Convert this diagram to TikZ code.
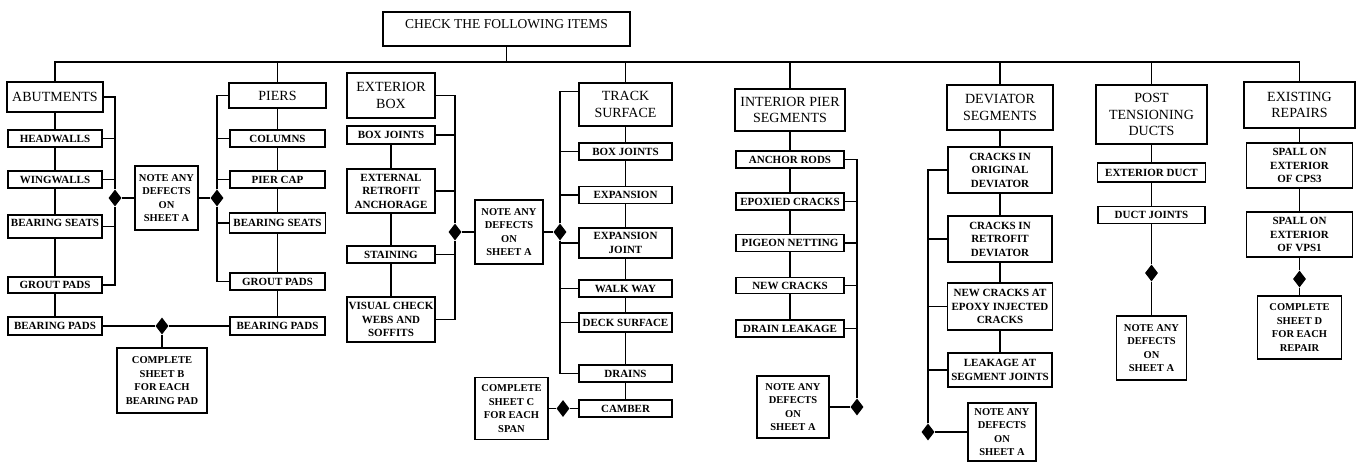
\documentclass[tikz,border=0pt]{standalone}
\usepackage{fontspec}
\setmainfont{Liberation Serif}
\usetikzlibrary{shapes.geometric}
\begin{document}
\begin{tikzpicture}[x=1pt,y=-1pt,sz/.style 2 args={minimum width=#1pt,minimum height=#2pt},hbox/.style={draw,line width=1.8pt,align=center,inner sep=1pt,font=\fontsize{14}{16.5}\selectfont},ibox/.style={draw,line width=1.4pt,align=center,inner sep=1pt,font=\bfseries\fontsize{11}{13.5}\selectfont},nbox/.style={draw,line width=1.8pt,align=center,inner sep=1pt,font=\bfseries\fontsize{10.5}{13.5}\selectfont},dmd/.style={diamond,fill=black,inner sep=0pt,minimum width=13pt,minimum height=17pt},conn/.style={line width=1.1pt}]
\useasboundingbox (0,0) rectangle (1363,464);
\node[hbox,sz={247}{34},font=\fontsize{13.5}{16}\selectfont,text height=12.5pt,text depth=13.5pt] (top) at (506.5,29) {CHECK THE FOLLOWING ITEMS};
\coordinate (bus) at (506.5,62);
\node[hbox,sz={96}{30}] (abut) at (55,97) {ABUTMENTS};
\node[ibox,sz={94}{17}] (hw) at (55,138.5) {HEADWALLS};
\node[ibox,sz={94}{17}] (ww) at (55,179.5) {WINGWALLS};
\node[ibox,sz={94}{23},text height=8pt,text depth=9pt] (bs1) at (55,226.5) {BEARING SEATS};
\node[ibox,sz={94}{16}] (gp1) at (55,285) {GROUT PADS};
\node[ibox,sz={94}{18}] (bp1) at (55,326) {BEARING PADS};
\node[dmd] (d1) at (115,198) {};
\node[nbox,sz={63}{64}] (note1) at (166.5,198) {NOTE ANY\\DEFECTS\\ON\\SHEET A};
\node[dmd] (d2) at (217,198) {};
\node[hbox,sz={97}{25}] (piers) at (277.5,95.5) {PIERS};
\node[ibox,sz={95}{17}] (col) at (277.5,138.5) {COLUMNS};
\node[ibox,sz={95}{17}] (pcap) at (277.5,179.5) {PIER CAP};
\node[ibox,sz={96}{20}] (bs2) at (277.5,223) {BEARING SEATS};
\node[ibox,sz={95}{17}] (gp2) at (277.5,281.5) {GROUT PADS};
\node[ibox,sz={95}{18}] (bp2) at (277.5,326) {BEARING PADS};
\node[dmd] (d3) at (162,326) {};
\node[nbox,sz={90}{65}] (shb) at (162,380.5) {COMPLETE\\SHEET B\\FOR EACH\\BEARING PAD};
\node[hbox,sz={88}{45}] (exb) at (391,95.5) {EXTERIOR\\BOX};
\node[ibox,sz={88}{18}] (ebj) at (391,135) {BOX JOINTS};
\node[ibox,sz={88}{44}] (era) at (391,191) {EXTERNAL\\RETROFIT\\ANCHORAGE};
\node[ibox,sz={88}{17}] (stn) at (391,254.5) {STAINING};
\node[ibox,sz={88}{45}] (vis) at (391,319.5) {VISUAL CHECK\\WEBS AND\\SOFFITS};
\node[dmd] (d4) at (455,232) {};
\node[nbox,sz={68}{64}] (note2) at (509,232) {NOTE ANY\\DEFECTS\\ON\\SHEET A};
\node[dmd] (d5) at (560,232) {};
\node[hbox,sz={93}{43}] (trs) at (625.5,104.5) {TRACK\\SURFACE};
\node[ibox,sz={93}{17}] (tbj) at (625.5,151.5) {BOX JOINTS};
\node[ibox,sz={93}{17}] (exp) at (625.5,195) {EXPANSION};
\node[ibox,sz={93}{30}] (expj) at (625.5,243) {EXPANSION\\JOINT};
\node[ibox,sz={93}{17}] (wway) at (625.5,288.5) {WALK WAY};
\node[ibox,sz={93}{19}] (deck) at (625.5,322.5) {DECK SURFACE};
\node[ibox,sz={93}{17}] (drn) at (625.5,373.5) {DRAINS};
\node[ibox,sz={93}{17}] (cam) at (625.5,408.5) {CAMBER};
\node[dmd] (d6) at (563,408.5) {};
\node[nbox,sz={73}{62}] (shc) at (511.5,408.5) {COMPLETE\\SHEET C\\FOR EACH\\SPAN};
\node[hbox,sz={110}{42}] (ips) at (790,110) {INTERIOR PIER\\SEGMENTS};
\node[ibox,sz={108}{17}] (anc) at (790,159.5) {ANCHOR RODS};
\node[ibox,sz={108}{17}] (epx) at (790,201.5) {EPOXIED CRACKS};
\node[ibox,sz={108}{17}] (pig) at (790,243) {PIGEON NETTING};
\node[ibox,sz={108}{16}] (nwc) at (790,285.5) {NEW CRACKS};
\node[ibox,sz={108}{17}] (drl) at (790,328.5) {DRAIN LEAKAGE};
\node[dmd] (d7) at (857,407) {};
\node[nbox,sz={72}{62}] (note3) at (793,407) {NOTE ANY\\DEFECTS\\ON\\SHEET A};
\node[hbox,sz={106}{45}] (dev) at (1000,107.5) {DEVIATOR\\SEGMENTS};
\node[ibox,sz={104}{46}] (cod) at (1000,170) {CRACKS IN\\ORIGINAL\\DEVIATOR};
\node[ibox,sz={104}{46}] (crd) at (1000,239) {CRACKS IN\\RETROFIT\\DEVIATOR};
\node[ibox,sz={105}{47}] (nca) at (1000,306.5) {NEW CRACKS AT\\EPOXY INJECTED\\CRACKS};
\node[ibox,sz={104}{34}] (lsj) at (1000,370) {LEAKAGE AT\\SEGMENT JOINTS};
\node[dmd] (d8) at (928,432) {};
\node[nbox,sz={68}{58}] (note4) at (1002,432) {NOTE ANY\\DEFECTS\\ON\\SHEET A};
\node[hbox,sz={111}{59}] (ptd) at (1151.5,114.5) {POST\\TENSIONING\\DUCTS};
\node[ibox,sz={108}{19}] (exd) at (1151.5,172.5) {EXTERIOR DUCT};
\node[ibox,sz={107}{17}] (dj) at (1151.5,215) {DUCT JOINTS};
\node[dmd] (d9) at (1151.5,273) {};
\node[nbox,sz={70}{64}] (note5) at (1151.5,348) {NOTE ANY\\DEFECTS\\ON\\SHEET A};
\node[hbox,sz={111}{46}] (rep) at (1299.5,105) {EXISTING\\REPAIRS};
\node[ibox,sz={106}{45}] (sp1) at (1299.5,165.5) {SPALL ON\\EXTERIOR\\OF CPS3};
\node[ibox,sz={106}{45}] (sp2) at (1299.5,234.5) {SPALL ON\\EXTERIOR\\OF VPS1};
\node[dmd] (d10) at (1299.5,279) {};
\node[nbox,sz={84}{63}] (shd) at (1299.5,327.5) {COMPLETE\\SHEET D\\FOR EACH\\REPAIR};
\draw[conn](top)--(bus);\draw[conn](bus)-|(abut);\draw[conn](bus)-|(piers);\draw[conn](bus)-|(trs);\draw[conn](bus)-|(ips);\draw[conn](bus)-|(dev);\draw[conn](bus)-|(ptd);\draw[conn](bus)-|(rep);
\draw[conn](abut)--(hw)--(ww)--(bs1)--(gp1)--(bp1);\draw[conn](abut.east)-|(d1);\draw[conn](hw.east)-|(d1);\draw[conn](ww.east)-|(d1);\draw[conn](bs1.east)-|(d1);\draw[conn](gp1.east)-|(d1);\draw[conn](d1)--(note1)--(d2);
\draw[conn](piers)--(col)--(pcap)--(bs2)--(gp2)--(bp2);\draw[conn](d2)|-(piers.west);\draw[conn](d2)|-(col.west);\draw[conn](d2)|-(pcap.west);\draw[conn](d2)|-(bs2.west);\draw[conn](d2)|-(gp2.west);
\draw[conn](bp1)--(d3)--(bp2);\draw[conn](d3)--(shb);
\draw[conn](ebj)--(era)--(stn)--(vis);\draw[conn](exb.east)-|(d4);\draw[conn](ebj.east)-|(d4);\draw[conn](era.east)-|(d4);\draw[conn](stn.east)-|(d4);\draw[conn](vis.east)-|(d4);\draw[conn](d4)--(note2)--(d5);
\draw[conn](trs)--(tbj)--(exp)--(expj)--(wway)--(deck)--(drn)--(cam);\draw[conn](d5)|-(trs.165);\draw[conn](d5)|-(tbj.west);\draw[conn](d5)|-(exp.west);\draw[conn](d5)|-(expj.west);\draw[conn](d5)|-(wway.west);\draw[conn](d5)|-(deck.west);\draw[conn](d5)|-(drn.west);\draw[conn](cam)--(d6)--(shc);
\draw[conn](ips)--(anc)--(epx)--(pig)--(nwc)--(drl);\draw[conn](anc.east)-|(d7);\draw[conn](epx.east)-|(d7);\draw[conn](pig.east)-|(d7);\draw[conn](nwc.east)-|(d7);\draw[conn](drl.east)-|(d7);\draw[conn](d7)--(note3);
\draw[conn](dev)--(cod)--(crd)--(nca)--(lsj);\draw[conn](d8)|-(cod.west);\draw[conn](d8)|-(crd.west);\draw[conn](d8)|-(nca.west);\draw[conn](d8)|-(lsj.west);\draw[conn](d8)--(note4);
\draw[conn](ptd)--(exd)--(dj)--(d9)--(note5);\draw[conn](rep)--(sp1)--(sp2)--(d10)--(shd);
\end{tikzpicture}
\end{document}
